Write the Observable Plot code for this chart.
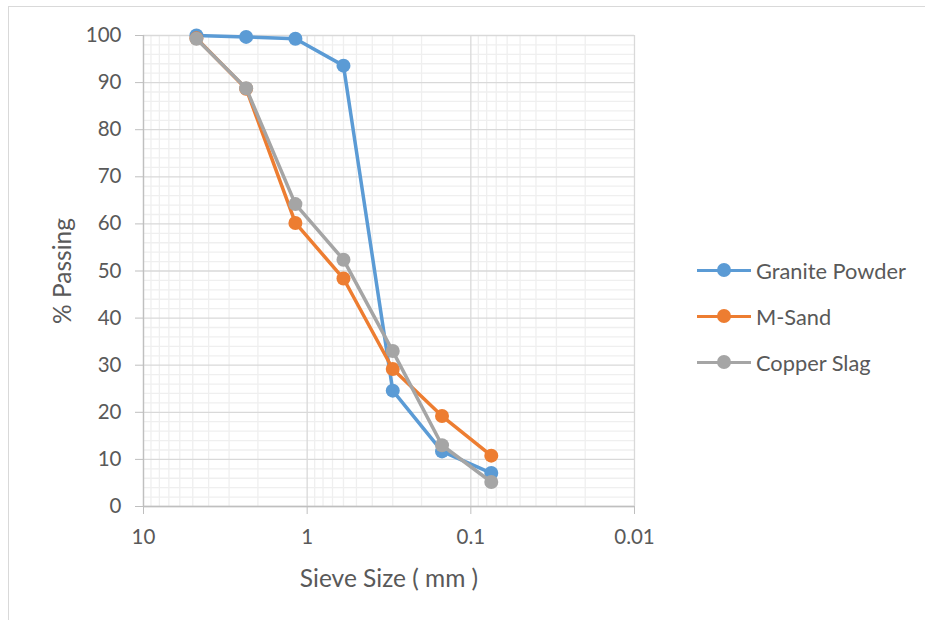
<!DOCTYPE html>
<html>
<head>
<meta charset="utf-8">
<script src="https://cdn.jsdelivr.net/npm/d3@7"></script>
<script src="https://cdn.jsdelivr.net/npm/@observablehq/plot@0.6"></script>
<style>
  body { margin: 0; background: #fff; font-family: Lato, "Open Sans", sans-serif; }
  #wrap { position: relative; width: 925px; height: 620px; overflow: hidden; }
  #frame { position: absolute; left: 8px; top: 6px; width: 940px; height: 640px; border: 1px solid #d9d9d9; box-sizing: border-box; }
  #chart { position: absolute; left: 0; top: 0; }
  #legend { position: absolute; left: 697px; top: 247px; font-family: Lato, sans-serif; font-size: 21.8px; color: #595959; }
  .item { display: flex; align-items: center; height: 46px; }
  .sw { position: relative; width: 54px; height: 14px; margin-right: 5px; }
  .sw .ln { position: absolute; left: 0; top: 5.5px; width: 54px; height: 3.5px; }
  .sw .dt { position: absolute; left: 20px; top: 0; width: 14px; height: 14px; border-radius: 50%; }
</style>
</head>
<body>
<div id="wrap">
  <div id="frame"></div>
  <div id="chart"></div>
  <div id="legend"></div>
</div>
<script>
const sieveSizes = [4.75, 2.36, 1.18, 0.6, 0.3, 0.15, 0.075];
const granitePowder = [100, 99.7, 99.3, 93.6, 24.6, 11.7, 7.1];
const mSand = [99.4, 88.7, 60.2, 48.4, 29.2, 19.2, 10.8];
const copperSlag = [99.3, 88.8, 64.2, 52.4, 33.0, 13.0, 5.2];
const seriesNames = ["Granite Powder", "M-Sand", "Copper Slag"];
const seriesColors = ["#5B9BD5", "#ED7D31", "#A5A5A5"];
const xTicks = [10, 1, 0.1, 0.01];
const yTicks = d3.range(0, 101, 10);
const xLabel = "Sieve Size ( mm )";
const yLabel = "% Passing";

const seriesValues = [granitePowder, mSand, copperSlag];
const data = seriesNames.flatMap((name, i) =>
  sieveSizes.map((s, j) => ({series: name, size: s, pass: seriesValues[i][j]})));

const minorX = [0.01, 0.1, 1].flatMap(d => d3.range(2, 10).map(k => +(d * k).toPrecision(3)));
const minorY = d3.range(0, 101, 2).filter(v => v % 10 !== 0);

const marks = [
  Plot.ruleX(minorX, {stroke: "#efefef", strokeWidth: 1.3}),
  Plot.ruleY(minorY, {stroke: "#efefef", strokeWidth: 1.3}),
  Plot.ruleX(xTicks, {stroke: "#d9d9d9", strokeWidth: 1.3}),
  Plot.ruleY(yTicks, {stroke: "#d9d9d9", strokeWidth: 1.3}),
  Plot.ruleX([10], {stroke: "#bfbfbf", strokeWidth: 1.3}),
  Plot.ruleY([0], {stroke: "#bfbfbf", strokeWidth: 1.3}),
  Plot.axisY({ticks: yTicks, tickSize: 8, tickPadding: 14, stroke: "#bfbfbf", fill: "#595959", fontSize: 20.5,
    label: yLabel, labelAnchor: "center", labelArrow: "none", labelOffset: 90}),
  Plot.axisX({ticks: xTicks, tickSize: 8, tickPadding: 15, stroke: "#bfbfbf", fill: "#595959", fontSize: 20.5,
    tickFormat: d => String(d),
    label: xLabel, labelAnchor: "center", labelArrow: "none", labelOffset: 80}),
];
seriesNames.forEach((name, i) => {
  const rows = data.filter(d => d.series === name);
  marks.push(Plot.line(rows, {x: "size", y: "pass", stroke: seriesColors[i], strokeWidth: 3.5}));
  marks.push(Plot.dot(rows, {x: "size", y: "pass", fill: seriesColors[i], r: 7, stroke: "none"}));
});

const chart = Plot.plot({
  width: 925,
  height: 620,
  marginLeft: 143,
  marginRight: 291,
  marginTop: 35,
  marginBottom: 114,
  style: {fontFamily: "Lato, sans-serif", fontSize: "20.5px", color: "#595959", background: "transparent"},
  x: {type: "log", domain: [10, 0.01]},
  y: {domain: [0, 100]},
  marks
});
d3.select(chart).selectAll("text")
  .filter(function() { return this.textContent === xLabel || this.textContent === yLabel; })
  .style("font-size", "24.5px").style("fill", "#595959");
document.getElementById("chart").appendChild(chart);

const legend = document.getElementById("legend");
seriesNames.forEach((name, i) => {
  const item = document.createElement("div");
  item.className = "item";
  item.innerHTML = `<div class="sw"><div class="ln" style="background:${seriesColors[i]}"></div><div class="dt" style="background:${seriesColors[i]}"></div></div><span>${name}</span>`;
  legend.appendChild(item);
});
</script>
</body>
</html>
